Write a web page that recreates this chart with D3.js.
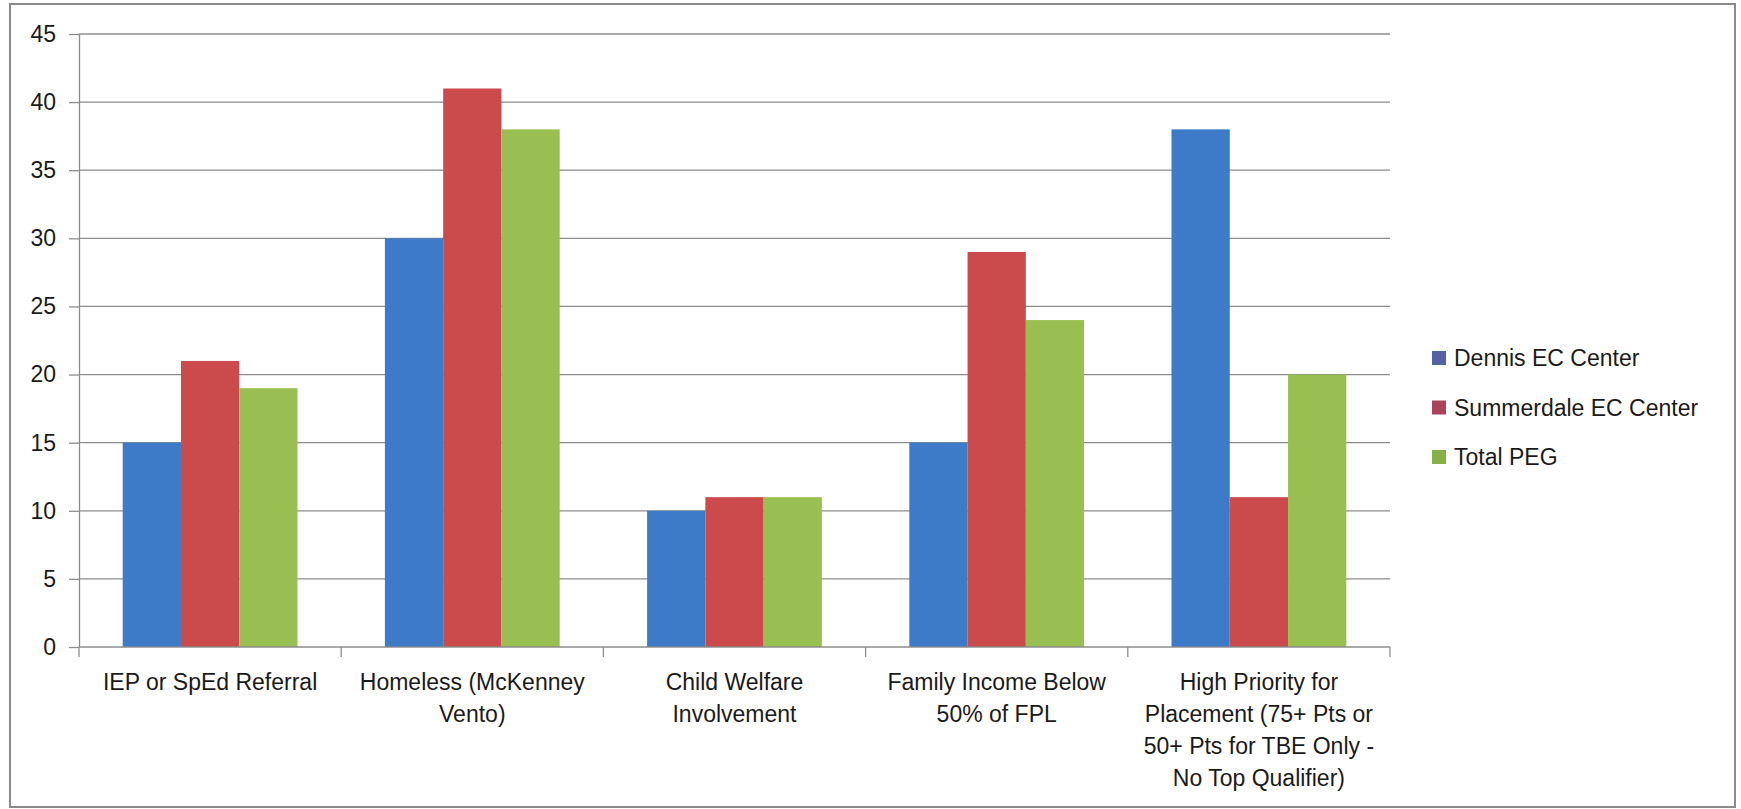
<!DOCTYPE html>
<html>
<head>
<meta charset="utf-8">
<script src="https://cdn.jsdelivr.net/npm/d3@7"></script>
<style>
    body { margin: 0; background: #fff; }
    svg text { font-family: "Liberation Sans", Arial, sans-serif; fill: #1a1a1a; }
</style>
</head>
<body>
<div id="chart"></div>
<script>
// categories (one entry per line of the tick label)
let categories = [
    ["IEP or SpEd Referral"],
    ["Homeless (McKenney", "Vento)"],
    ["Child Welfare", "Involvement"],
    ["Family Income Below", "50% of FPL"],
    ["High Priority for", "Placement (75+ Pts or", "50+ Pts for TBE Only -", "No Top Qualifier)"]
];
let seriesNames = ["Dennis EC Center", "Summerdale EC Center", "Total PEG"];
let dennis = [15, 30, 10, 15, 38];
let summerdale = [21, 41, 11, 29, 11];
let totalPeg = [19, 38, 11, 24, 20];
let yTicks = [0, 5, 10, 15, 20, 25, 30, 35, 40, 45];

let barColors = ["#3d7bc9", "#cb4a4c", "#99bf52"];
let legendColors = ["#5262a4", "#a8435a", "#86b048"];

let seriesValues = [dennis, summerdale, totalPeg];
let keys = categories.map(c => c.join(" "));

let margin = {top: 34, left: 79, right: 351, bottom: 162};
let totalW = 1741, totalH = 809;
let width = totalW - margin.left - margin.right;
let height = totalH - margin.top - margin.bottom;

let svg = d3.select("#chart").append("svg")
    .attr("width", totalW)
    .attr("height", totalH);

// outer frame
svg.append("rect")
    .attr("x", 10).attr("y", 4)
    .attr("width", 1725).attr("height", 803)
    .attr("fill", "none")
    .attr("stroke", "#8a8a8a")
    .attr("stroke-width", 2);

let g = svg.append("g")
    .attr("transform", `translate(${margin.left},${margin.top})`);

// scales
let x0 = d3.scaleBand().domain(keys).range([0, width]).padding(0);
let x1 = d3.scaleBand().domain(seriesNames).range([0, x0.bandwidth()])
    .paddingInner(0).paddingOuter(0.75);
let y = d3.scaleLinear().domain([0, 45]).range([height, 0]);

// gridlines
g.append("g")
    .selectAll("line")
    .data(yTicks.filter(d => d > 0))
    .enter().append("line")
    .attr("x1", 0).attr("x2", width)
    .attr("y1", d => y(d)).attr("y2", d => y(d))
    .attr("stroke", "#8c8c8c")
    .attr("stroke-width", 1.3);

// bars
let groups = g.append("g").selectAll("g")
    .data(keys)
    .enter().append("g")
    .attr("transform", d => `translate(${x0(d)},0)`);

groups.selectAll("rect")
    .data((d, i) => seriesNames.map((s, j) => ({series: s, value: seriesValues[j][i], j: j})))
    .enter().append("rect")
    .attr("x", d => x1(d.series))
    .attr("width", x1.bandwidth())
    .attr("y", d => y(d.value))
    .attr("height", d => height - y(d.value))
    .attr("fill", d => barColors[d.j]);

// y axis
let yAxis = g.append("g")
    .call(d3.axisLeft(y).tickValues(yTicks).tickSize(10).tickPadding(13).tickSizeOuter(0));
yAxis.select(".domain").attr("stroke", "#8c8c8c").attr("stroke-width", 1.3);
yAxis.selectAll(".tick line").attr("stroke", "#8c8c8c").attr("stroke-width", 1.3);
yAxis.selectAll("text")
    .style("font-size", "23px")
    .style("font-family", "'Liberation Sans', Arial, sans-serif")
    .attr("fill", "#1a1a1a");

// x axis
let xAxisG = g.append("g").attr("transform", `translate(0,${height})`);
xAxisG.append("line")
    .attr("x1", 0).attr("x2", width)
    .attr("stroke", "#8c8c8c").attr("stroke-width", 1.3);
xAxisG.selectAll(".xtick")
    .data(d3.range(keys.length + 1))
    .enter().append("line")
    .attr("x1", i => i * x0.step()).attr("x2", i => i * x0.step())
    .attr("y1", 0).attr("y2", 10)
    .attr("stroke", "#8c8c8c").attr("stroke-width", 1.3);

let labels = xAxisG.selectAll(".xlabel")
    .data(categories)
    .enter().append("text")
    .attr("class", "xlabel")
    .attr("text-anchor", "middle")
    .attr("x", (d, i) => x0(keys[i]) + x0.bandwidth() / 2)
    .style("font-size", "23px");
labels.selectAll("tspan")
    .data(d => d)
    .enter().append("tspan")
    .attr("x", function() { return d3.select(this.parentNode).attr("x"); })
    .attr("y", (d, i) => 43 + i * 32)
    .text(d => d);

// legend
let legend = svg.append("g").attr("transform", "translate(1432,358)");
let items = legend.selectAll("g")
    .data(seriesNames)
    .enter().append("g")
    .attr("transform", (d, i) => `translate(0,${i * 49.5})`);
items.append("rect")
    .attr("x", 0).attr("y", -7)
    .attr("width", 14).attr("height", 14)
    .attr("fill", (d, i) => legendColors[i]);
items.append("text")
    .attr("x", 22)
    .attr("y", 8)
    .style("font-size", "23px")
    .text(d => d);
</script>
</body>
</html>
